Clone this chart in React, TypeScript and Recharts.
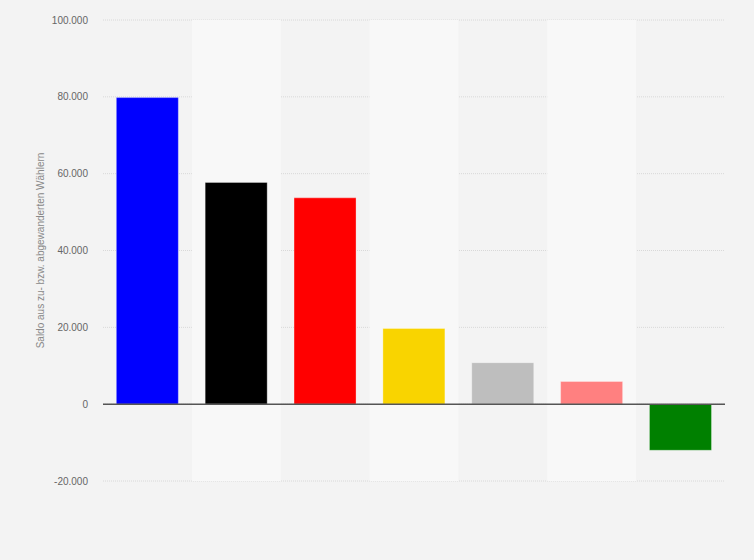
import React from "react";
import {
  BarChart,
  Bar,
  Cell,
  XAxis,
  YAxis,
  CartesianGrid,
  ReferenceArea,
  ReferenceLine,
} from "recharts";

const parties = ["AfD", "CDU/CSU", "SPD", "FDP", "Andere", "Linke", "Grüne"];
const saldo = [79800, 57700, 53700, 19700, 10800, 5900, -12000];
const barColors = ["#0000ff", "#000000", "#ff0000", "#f9d400", "#bebebe", "#ff8080", "#008000"];
const yTicks = [-20000, 0, 20000, 40000, 60000, 80000, 100000];

const data = parties.map((name, i) => ({ name, value: saldo[i] }));

const fmt = (v: number) =>
  v === 0 ? "0" : v.toLocaleString("de-DE").replace(/,/g, ".");

const FONT = '"Liberation Sans", Arial, sans-serif';

export default function App() {
  return (
    <div
      style={{
        position: "absolute",
        left: 0,
        top: 0,
        width: 754,
        height: 560,
        background: "#f3f3f3",
        fontFamily: FONT,
      }}
    >
      <BarChart
        width={754}
        height={560}
        data={data}
        margin={{ top: 20, right: 29, bottom: 79, left: 0 }}
        barCategoryGap="15%"
      >
        {parties.map((p, i) =>
          i % 2 === 1 ? (
            <ReferenceArea
              key={p}
              x1={p}
              x2={p}
              fill="#f8f8f8"
              fillOpacity={1}
              stroke="none"
              ifOverflow="extendDomain"
            />
          ) : null
        )}
        <CartesianGrid
          vertical={false}
          stroke="#d8d8d8"
          strokeDasharray="1 1"
        />
        <XAxis dataKey="name" hide />
        <YAxis
          width={103}
          domain={[-20000, 100000]}
          ticks={yTicks}
          tickFormatter={fmt}
          axisLine={false}
          tickLine={false}
          tickSize={0}
          tickMargin={15}
          tick={{ fill: "#666", fontSize: 10, fontFamily: FONT }}
          label={{
            value: "Saldo aus zu- bzw. abgewanderten Wählern",
            angle: -90,
            position: "insideLeft",
            offset: 40,
            style: { textAnchor: "middle", fill: "#888", fontSize: 10, fontFamily: FONT },
          }}
        />
        <ReferenceLine y={0} stroke="#555" strokeWidth={1.5} />
        <Bar dataKey="value" isAnimationActive={false} stroke="#ffffff" strokeOpacity={0.3}>
          {data.map((d, i) => (
            <Cell key={d.name} fill={barColors[i]} />
          ))}
        </Bar>
      </BarChart>
    </div>
  );
}
